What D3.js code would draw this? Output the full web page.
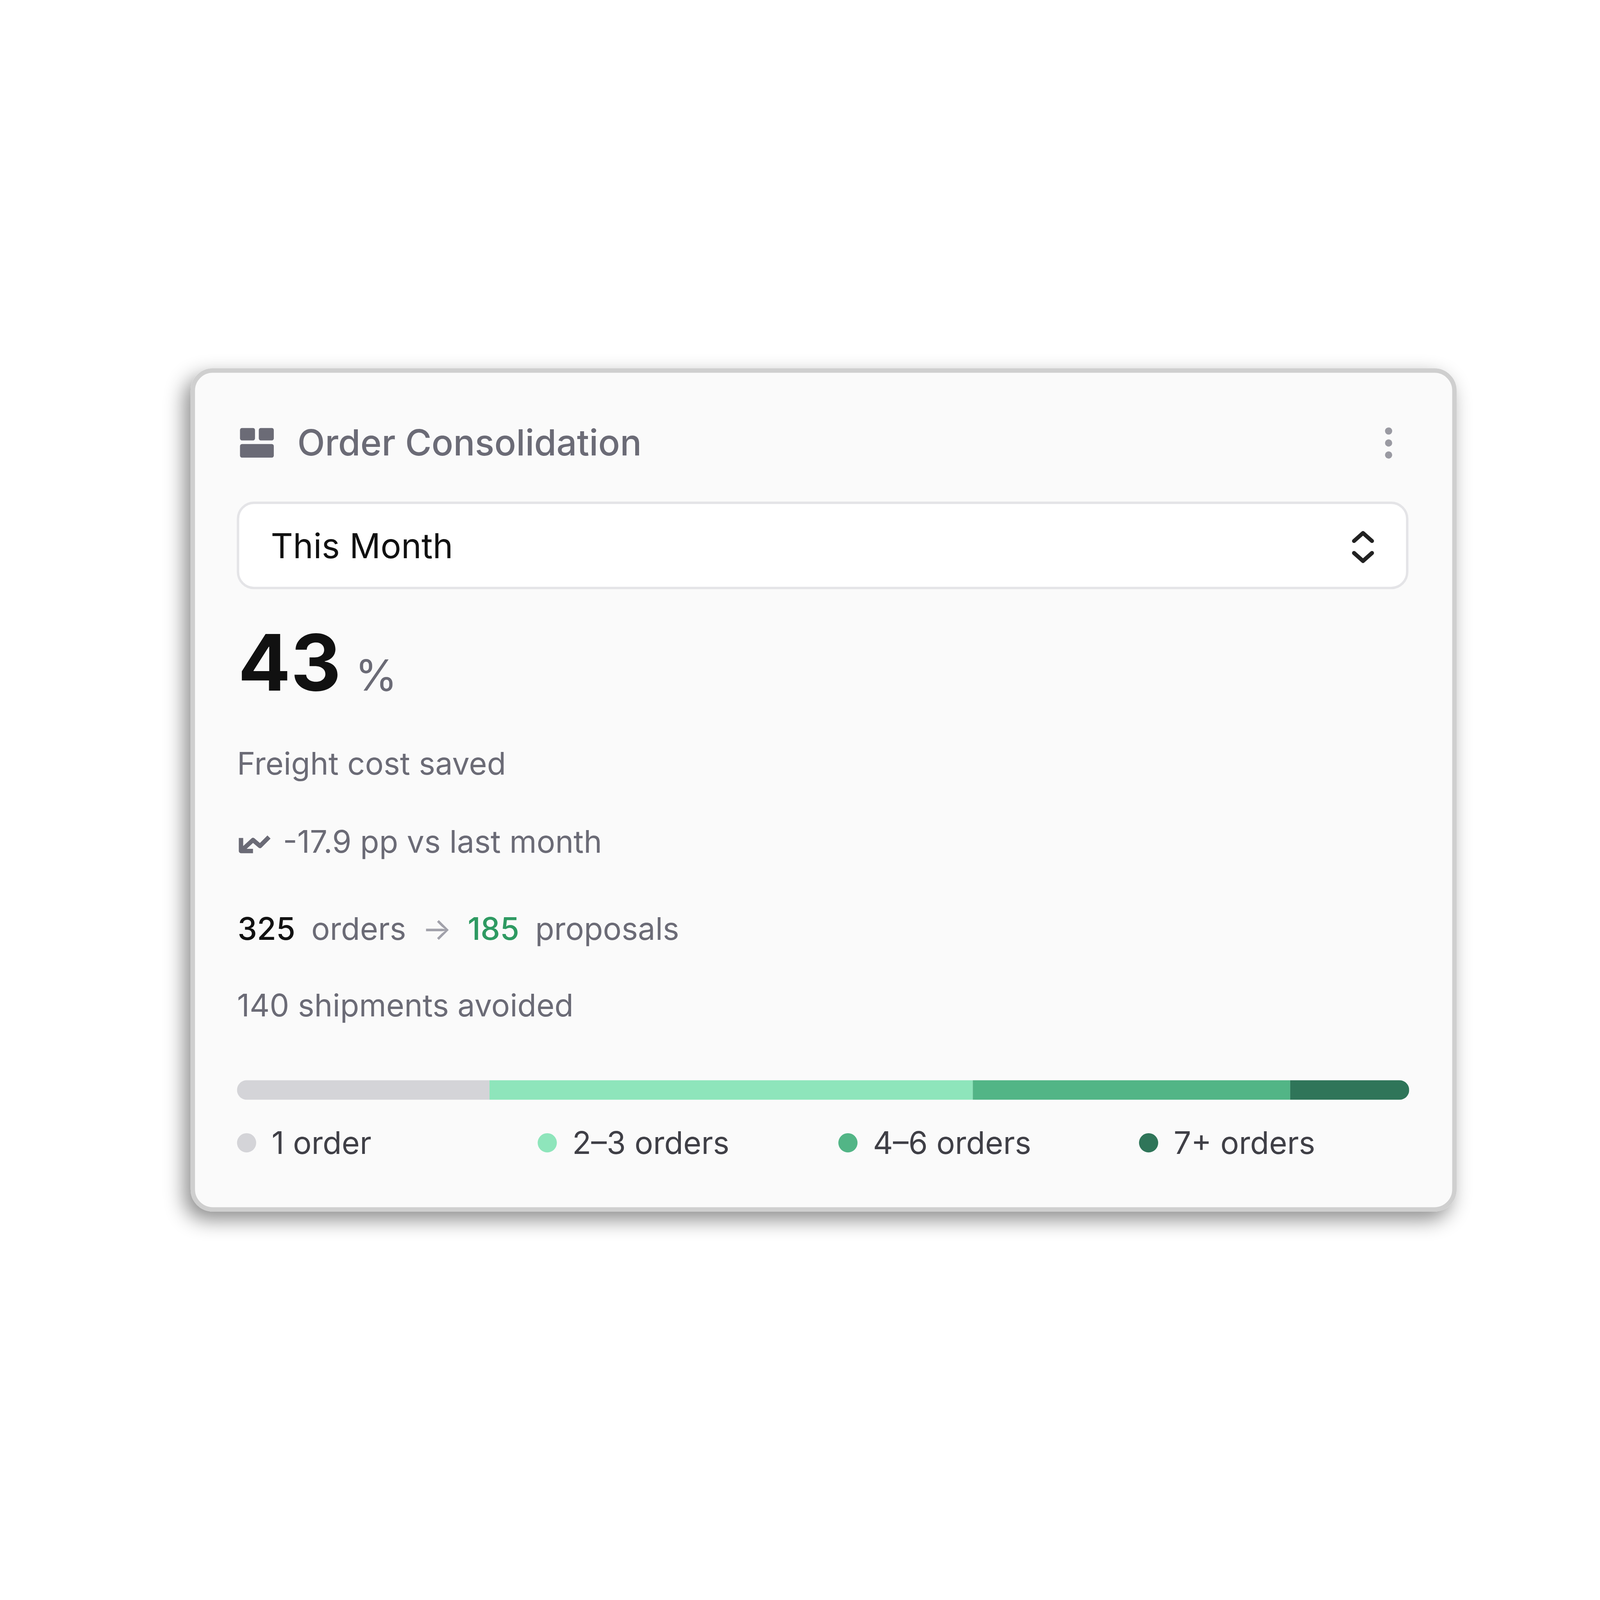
<!DOCTYPE html>
<html>
<head>
<meta charset="utf-8">
<script src="https://cdn.jsdelivr.net/npm/d3@7"></script>
<style>
  html,body{margin:0;padding:0;background:#fff;width:100%;height:100%;overflow:hidden;}
  svg{display:block;width:100vw;height:100vh;}
  text{font-family:Inter,"Noto Sans",sans-serif;}
</style>
</head>
<body>
<svg id="chart" viewBox="0 0 8000 4500" preserveAspectRatio="xMidYMid meet"></svg>
<script>
// order-count buckets (consolidation distribution)
var buckets = ["1 order","2\u20133 orders","4\u20136 orders","7+ orders"];
var counts = [70, 134, 88, 33];
var colors = ["#d4d4d8","#8ee5bb","#52b586","#2f7559"];
var periodLabel = "This Month";
var savedPct = 43;
var trendText = "-17.9 pp vs last month";
var ordersIn = 325, proposalsOut = 185, avoided = 140;

var svg = d3.select("#chart");
var defs = svg.append("defs");
var f = defs.append("filter").attr("id","sh").attr("x","-10%").attr("y","-10%").attr("width","120%").attr("height","125%");
f.append("feDropShadow").attr("dx",-30).attr("dy",40).attr("stdDeviation",50).attr("flood-color","#000").attr("flood-opacity",0.45);

// card
svg.append("rect").attr("x",964).attr("y",103).attr("width",6308).attr("height",4194)
  .attr("rx",100).attr("fill","#fafafa").attr("stroke","#cfcfcf").attr("stroke-width",22)
  .attr("filter","url(#sh)");

// header icon
var ic = svg.append("g").attr("fill","#6b6b76");
ic.append("rect").attr("x",1200).attr("y",390).attr("width",75).attr("height",62).attr("rx",10);
ic.append("rect").attr("x",1294).attr("y",390).attr("width",75).attr("height",62).attr("rx",10);
ic.append("rect").attr("x",1200).attr("y",470).attr("width",169).attr("height",68).attr("rx",10);
svg.append("text").attr("x",1487).attr("y",528).attr("font-size",180).attr("font-weight",500)
  .attr("fill","#6b6b76").text("Order Consolidation");
[405,465,525].forEach(function(y){
  svg.append("circle").attr("cx",6943).attr("cy",y).attr("r",18).attr("fill","#9a9aa2");
});

// dropdown
svg.append("rect").attr("x",1190).attr("y",764).attr("width",5846).attr("height",426).attr("rx",80)
  .attr("fill","#fff").attr("stroke","#e4e4e7").attr("stroke-width",12);
svg.append("text").attr("x",1354).attr("y",1041).attr("font-size",172).attr("fill","#111").text(periodLabel);
svg.append("path").attr("d","M6770,955 L6815,915 L6860,955 M6770,1015 L6815,1055 L6860,1015")
  .attr("fill","none").attr("stroke","#222").attr("stroke-width",20).attr("stroke-linecap","round").attr("stroke-linejoin","round");

// big number
var big = svg.append("text").attr("x",1190).attr("y",1703);
big.append("tspan").attr("font-size",390).attr("font-weight",700).attr("fill","#111").text(savedPct);
big.append("tspan").attr("dx",70).attr("font-size",215).attr("fill","#6b6b76").text("%");

svg.append("text").attr("x",1185).attr("y",2123).attr("font-size",155).attr("fill","#6b6b76").text("Freight cost saved");

// trend
svg.append("path").attr("d","M1345,2435 L1300,2480 L1265,2450 L1205,2505 M1205,2440 L1205,2505 L1265,2505")
  .attr("fill","none").attr("stroke","#6b6b76").attr("stroke-width",22).attr("stroke-linejoin","round");
svg.append("text").attr("x",1415).attr("y",2513).attr("font-size",155).attr("fill","#6b6b76").text(trendText);

// orders -> proposals
var op = svg.append("text").attr("x",1188).attr("y",2949).attr("font-size",155);
op.append("tspan").attr("fill","#111").attr("font-weight",500).text(ordersIn);
op.append("tspan").attr("fill","#6b6b76").attr("dx",80).text("orders");
op.append("tspan").attr("fill","#a1a1aa").attr("dx",80).text("\u2192");
op.append("tspan").attr("fill","#2e9a62").attr("font-weight",500).attr("dx",80).text(proposalsOut);
op.append("tspan").attr("fill","#6b6b76").attr("dx",80).text("proposals");

svg.append("text").attr("x",1185).attr("y",3333).attr("font-size",155).attr("fill","#6b6b76")
  .text(avoided + " shipments avoided");

// stacked bar
var total = d3.sum(counts);
var x = d3.scaleLinear().domain([0,total]).range([1185,7046]);
var cum = 0;
var segs = counts.map(function(c,i){ var s = {i:i,x0:cum,x1:cum+c}; cum += c; return s; });
defs.append("clipPath").attr("id","barclip").append("rect")
  .attr("x",x(0)).attr("y",3651).attr("width",x(total)-x(0)).attr("height",98).attr("rx",49);
svg.append("g").attr("clip-path","url(#barclip)").selectAll("rect").data(segs).join("rect")
  .attr("x",function(d){return x(d.x0);}).attr("y",3651)
  .attr("width",function(d){return x(d.x1)-x(d.x0);}).attr("height",98)
  .attr("fill",function(d){return colors[d.i];});

// legend
var lx = d3.scalePoint().domain(buckets).range([1233,5743]);
var lg = svg.selectAll("g.leg").data(buckets).join("g").attr("class","leg")
  .attr("transform",function(d){return "translate("+lx(d)+",3964)";});
lg.append("circle").attr("r",48).attr("fill",function(d,i){return colors[i];});
lg.append("text").attr("x",125).attr("y",55).attr("font-size",155).attr("fill","#3f3f46").text(function(d){return d;});
</script>
</body>
</html>
